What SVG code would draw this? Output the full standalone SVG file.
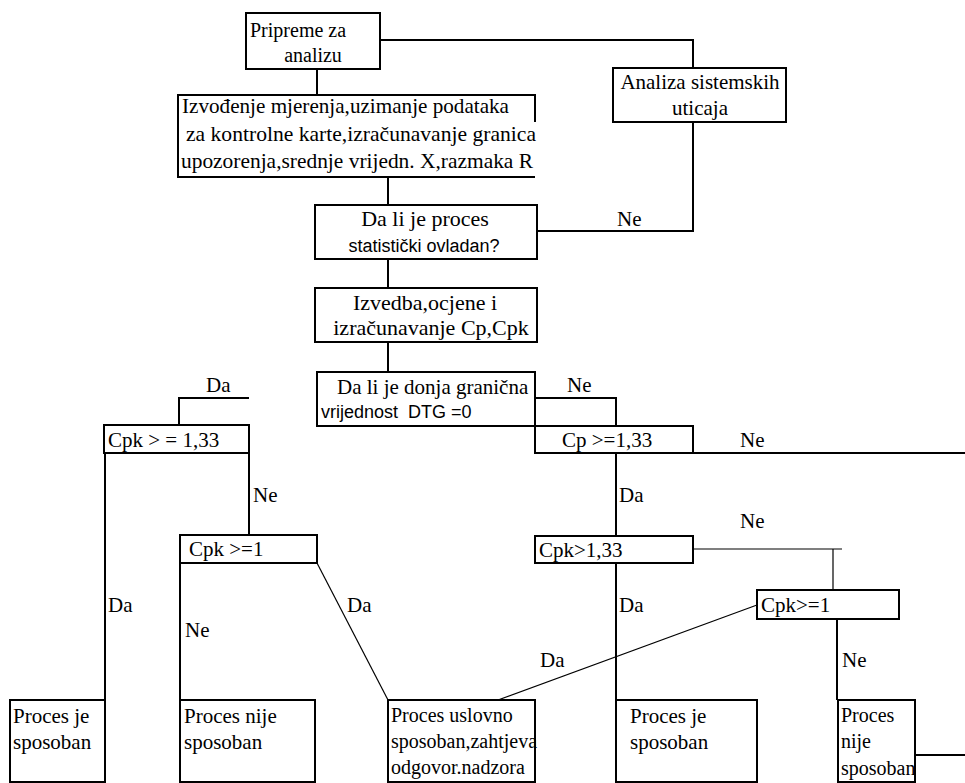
<svg xmlns="http://www.w3.org/2000/svg" width="965" height="783" viewBox="0 0 965 783">
<style>
.bx{fill:#fff;stroke:#000;stroke-width:2}
.ln{fill:none;stroke:#000;stroke-width:2}
.th{fill:none;stroke:#000;stroke-width:1.2}
.t{font-family:"Liberation Serif","Times New Roman",serif;font-size:21px;fill:#000}
.t20{font-size:20px}
.t22{font-size:22px}
.s{font-family:"Liberation Sans",Arial,sans-serif;font-size:18px;fill:#000;white-space:pre}
.m{text-anchor:middle}
</style>
<rect width="965" height="783" fill="#fff"/>
<g id="connectors">
<polyline class="ln" points="380,40 693,40 693,68"/>
<line class="ln" x1="317" y1="69" x2="317" y2="95"/>
<line class="ln" x1="388" y1="177" x2="388" y2="205"/>
<polyline class="ln" points="693,122 693,231 537,231"/>
<line class="ln" x1="388" y1="259" x2="388" y2="288"/>
<line class="ln" x1="388" y1="342" x2="388" y2="372"/>
<polyline class="ln" points="535,398 616,398 616,426"/>
<polyline class="ln" points="249,398 179,398 179,425"/>
<line class="ln" x1="693" y1="453" x2="965" y2="453"/>
<line class="ln" x1="616" y1="453" x2="616" y2="536"/>
<line class="ln" x1="616" y1="563" x2="616" y2="700"/>
<line class="th" x1="693" y1="549" x2="842" y2="549"/>
<line class="th" x1="833" y1="549" x2="833" y2="590"/>
<line class="ln" x1="837" y1="619" x2="837" y2="700"/>
<line class="th" x1="757" y1="605" x2="498" y2="700"/>
<line class="ln" x1="915" y1="755" x2="965" y2="755"/>
<line class="ln" x1="105" y1="453" x2="105" y2="700"/>
<line class="ln" x1="249" y1="453" x2="249" y2="535"/>
<line class="ln" x1="180" y1="563" x2="180" y2="700"/>
<line class="th" x1="317" y1="563" x2="388" y2="700"/>
<text class="t" x="617" y="226">Ne</text>
<text class="t" x="567" y="392">Ne</text>
<text class="t" x="206" y="392">Da</text>
<text class="t" x="740" y="447">Ne</text>
<text class="t" x="619" y="502">Da</text>
<text class="t" x="740" y="528">Ne</text>
<text class="t" x="619" y="612">Da</text>
<text class="t" x="842" y="667">Ne</text>
<text class="t" x="540" y="667">Da</text>
<text class="t" x="108" y="612">Da</text>
<text class="t" x="253" y="502">Ne</text>
<text class="t" x="185" y="637">Ne</text>
<text class="t" x="347" y="612">Da</text>
</g>
<g id="n1">
<rect class="bx" x="246" y="13" width="134" height="56"/>
<text class="t t20" x="250" y="37">Pripreme za</text>
<text class="t t20 m" x="313" y="62">analizu</text>
</g>
<g id="n2">
<rect class="bx" x="613" y="68" width="173" height="54"/>
<text class="t m" x="700" y="89">Analiza sistemskih</text>
<text class="t m" x="700" y="115">uticaja</text>
</g>
<g id="n3">
<path class="ln" d="M535,122 V95 H178 V177 H535"/>
<text class="t" x="182" y="113" textLength="327" lengthAdjust="spacingAndGlyphs">Izvođenje mjerenja,uzimanje podataka</text>
<text class="t" x="186" y="141" textLength="350" lengthAdjust="spacingAndGlyphs">za kontrolne karte,izračunavanje granica</text>
<text class="t" x="181" y="168" textLength="352" lengthAdjust="spacingAndGlyphs">upozorenja,srednje vrijedn. X,razmaka R</text>
</g>
<g id="n4">
<rect class="bx" x="315" y="205" width="222" height="54"/>
<text class="t t22 m" x="425" y="226">Da li je proces</text>
<text class="s m" x="424" y="252">statistički ovladan?</text>
</g>
<g id="n5">
<rect class="bx" x="315" y="288" width="222" height="54"/>
<text class="t t22 m" x="425" y="310">Izvedba,ocjene i</text>
<text class="t t22 m" x="431" y="335">izračunavanje Cp,Cpk</text>
</g>
<g id="n6">
<rect class="bx" x="317" y="372" width="218" height="54"/>
<text class="t" x="337" y="394">Da li je donja granična</text>
<text class="s" x="321" y="418">vrijednost  DTG =0</text>
</g>
<g id="n7">
<rect class="bx" x="535" y="426" width="158" height="27"/>
<text class="t" x="562" y="447">Cp &gt;=1,33</text>
</g>
<g id="n8">
<rect class="bx" x="104" y="425" width="145" height="28"/>
<text class="t" x="108" y="447">Cpk &gt; = 1,33</text>
</g>
<g id="n9">
<rect class="bx" x="180" y="535" width="137" height="28"/>
<text class="t" x="189" y="556">Cpk &gt;=1</text>
</g>
<g id="n10">
<rect class="bx" x="535" y="536" width="158" height="27"/>
<text class="t" x="539" y="557">Cpk&gt;1,33</text>
</g>
<g id="n11">
<rect class="bx" x="757" y="590" width="142" height="29"/>
<text class="t" x="761" y="612">Cpk&gt;=1</text>
</g>
<g id="n12">
<rect class="bx" x="10" y="700" width="95" height="82"/>
<text class="t" x="13" y="723">Proces je</text>
<text class="t" x="13" y="749">sposoban</text>
</g>
<g id="n13">
<rect class="bx" x="180" y="700" width="135" height="82"/>
<text class="t" x="184" y="723">Proces nije</text>
<text class="t" x="184" y="749">sposoban</text>
</g>
<g id="n14">
<rect class="bx" x="388" y="700" width="147" height="82"/>
<text class="t t20" x="391" y="722">Proces uslovno</text>
<text class="t t20" x="391" y="748">sposoban,zahtjeva</text>
<text class="t t20" x="391" y="774">odgovor.nadzora</text>
</g>
<g id="n15">
<rect class="bx" x="616" y="700" width="141" height="82"/>
<text class="t" x="630" y="723">Proces je</text>
<text class="t" x="630" y="749">sposoban</text>
</g>
<g id="n16">
<rect class="bx" x="838" y="700" width="77" height="82"/>
<text class="t t20" x="841" y="722">Proces</text>
<text class="t t20" x="841" y="748">nije</text>
<text class="t t20" x="841" y="775">sposoban</text>
</g>
</svg>
